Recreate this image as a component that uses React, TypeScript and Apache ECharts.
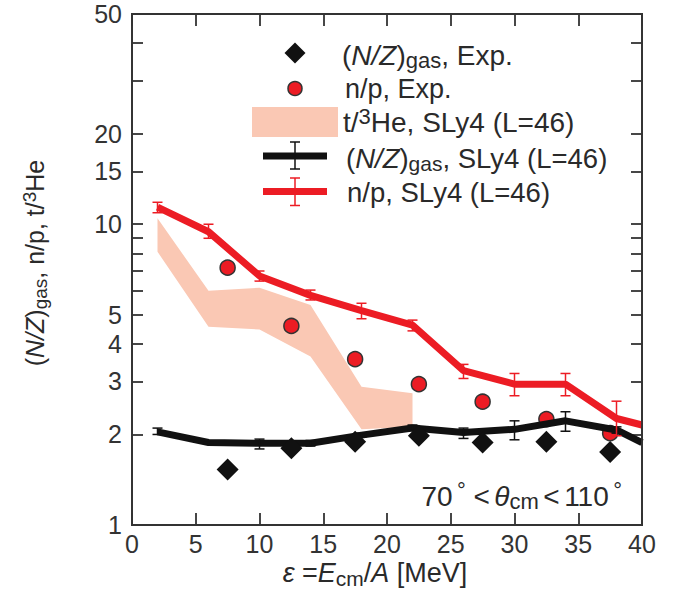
import { useEffect, useRef } from "react";
import * as echarts from "echarts";

// ---- data ----
const theoryX = [2, 6, 10, 14, 18, 22, 26, 30, 34, 38, 40];
const npSly4 = [11.4, 9.44, 6.73, 5.8, 5.16, 4.62, 3.26, 2.94, 2.94, 2.26, 2.15];
const npSly4Low = [10.92, 8.98, 6.47, 5.6, 4.85, 4.42, 3.07, 2.69, 2.69, 1.98, null];
const npSly4High = [11.83, 10.0, 6.99, 6.04, 5.46, 4.8, 3.42, 3.19, 3.19, 2.58, null];
const nzSly4 = [2.04, 1.88, 1.87, 1.87, 1.99, 2.1, 2.03, 2.08, 2.22, 2.07, 1.88];
const nzSly4Low = [2.0, 1.86, 1.79, 1.83, 1.96, 2.06, 1.94, 1.92, 2.05, 2.02, null];
const nzSly4High = [2.1, 1.9, 1.93, 1.91, 2.02, 2.15, 2.1, 2.22, 2.38, 2.12, null];

const expX = [7.5, 12.5, 17.5, 22.5, 27.5, 32.5, 37.5];
const npExp = [7.17, 4.59, 3.56, 2.94, 2.57, 2.25, 2.02];
const nzExp = [1.53, 1.8, 1.89, 1.98, 1.88, 1.89, 1.75];

const bandX = [2, 6, 10, 14, 18, 22];
const bandHigh = [10.46, 6.01, 6.15, 5.39, 2.88, 2.74];
const bandLow = [8.1, 4.56, 4.47, 3.63, 2.08, 2.12];

const yTickValues = [1, 2, 3, 4, 5, 6, 7, 8, 9, 10, 15, 20, 30, 40, 50];
const yLabelValues = [1, 2, 3, 4, 5, 10, 15, 20, 50];

const RED = "#ec1c24";
const BLACK = "#111111";
const BAND = "#fac8b4";
const AXIS = "#333333";
const TEXT = "#2a2a2a";
const FONT = "'Liberation Sans', Arial, Helvetica, sans-serif";

const L = (v: number) => Math.log10(v);
const LOGMAX = Math.log10(50);

function richStyles(size: number, subScale = 0.77) {
  const lh = size + 5;
  const small = Math.round(size * subScale);
  return {
    p: { fontSize: size, fontFamily: FONT, color: TEXT, lineHeight: lh },
    i: { fontSize: size, fontFamily: FONT, color: TEXT, fontStyle: "italic", lineHeight: lh },
    s: { fontSize: 16, fontFamily: FONT, color: TEXT, lineHeight: lh },
    sub: { fontSize: small, fontFamily: FONT, color: TEXT, lineHeight: Math.round(size * 0.7), verticalAlign: "bottom" },
    sup: { fontSize: small, fontFamily: FONT, color: TEXT, lineHeight: Math.round(size * 0.8), verticalAlign: "top" },
  };
}

function textEl(x: number, y: number, text: string, size: number, align = "left", rotation = 0) {
  return {
    type: "text",
    x,
    y,
    rotation,
    style: {
      text,
      rich: richStyles(size),
      fontSize: size,
      fontFamily: FONT,
      fill: TEXT,
      align,
      verticalAlign: "middle",
      textAlign: align,
      textVerticalAlign: "middle",
    },
    z: 100,
  };
}

function errBarSeries(xs: number[], lo: (number | null)[], hi: (number | null)[], color: string, z: number) {
  const data: number[][] = [];
  xs.forEach((x, i) => {
    const a = lo[i];
    const b = hi[i];
    if (a != null && b != null) data.push([x, L(a), L(b)]);
  });
  return {
    type: "custom",
    data,
    encode: { x: 0, y: [1, 2] },
    z,
    silent: true,
    renderItem: (_params: any, api: any) => {
      const x = api.value(0);
      const p1 = api.coord([x, api.value(1)]);
      const p2 = api.coord([x, api.value(2)]);
      const w = 5;
      const st = { stroke: color, lineWidth: 1.5 };
      return {
        type: "group",
        children: [
          { type: "line", shape: { x1: p1[0], y1: p1[1], x2: p2[0], y2: p2[1] }, style: st },
          { type: "line", shape: { x1: p1[0] - w, y1: p1[1], x2: p1[0] + w, y2: p1[1] }, style: st },
          { type: "line", shape: { x1: p2[0] - w, y1: p2[1], x2: p2[0] + w, y2: p2[1] }, style: st },
        ],
      };
    },
  };
}

export default function App() {
  const ref = useRef<HTMLDivElement>(null);

  useEffect(() => {
    document.body.style.margin = "0";
    if (!ref.current) return;
    const chart = echarts.init(ref.current, undefined, { renderer: "svg" });

    const legendGraphics: any[] = [
      {
        type: "polygon",
        shape: { points: [[295, 42.5], [305.5, 53], [295, 63.5], [284.5, 53]] },
        style: { fill: BLACK },
        z: 100,
      },
      {
        type: "circle",
        shape: { cx: 295, cy: 88.5, r: 7 },
        style: { fill: RED, stroke: "#333", lineWidth: 1.5 },
        z: 100,
      },
      { type: "rect", shape: { x: 252, y: 107, width: 86, height: 30 }, style: { fill: BAND }, z: 100 },
      { type: "line", shape: { x1: 263, y1: 156, x2: 327, y2: 156 }, style: { stroke: BLACK, lineWidth: 7 }, z: 100 },
      { type: "line", shape: { x1: 295, y1: 142, x2: 295, y2: 169 }, style: { stroke: BLACK, lineWidth: 1.5 }, z: 101 },
      { type: "line", shape: { x1: 290, y1: 142, x2: 300, y2: 142 }, style: { stroke: BLACK, lineWidth: 1.5 }, z: 101 },
      { type: "line", shape: { x1: 290, y1: 169, x2: 300, y2: 169 }, style: { stroke: BLACK, lineWidth: 1.5 }, z: 101 },
      { type: "line", shape: { x1: 263, y1: 191.5, x2: 327, y2: 191.5 }, style: { stroke: RED, lineWidth: 7 }, z: 100 },
      { type: "line", shape: { x1: 295, y1: 178, x2: 295, y2: 205.5 }, style: { stroke: RED, lineWidth: 1.5 }, z: 101 },
      { type: "line", shape: { x1: 290, y1: 178, x2: 300, y2: 178 }, style: { stroke: RED, lineWidth: 1.5 }, z: 101 },
      { type: "line", shape: { x1: 290, y1: 205.5, x2: 300, y2: 205.5 }, style: { stroke: RED, lineWidth: 1.5 }, z: 101 },
      textEl(342, 55, "{p|(}{i|N/Z}{p|)}{sub|gas}{p|, Exp.}", 28),
      textEl(345, 89, "{p|n/p, Exp.}", 27),
      textEl(343, 122, "{p|t/}{sup|3}{p|He, SLy4 (L=46)}", 28),
      textEl(346, 158, "{p|(}{i|N/Z}{p|)}{sub|gas}{p|, SLy4 (L=46)}", 27.5),
      textEl(347, 192, "{p|n/p, SLy4 (L=46)}", 27.5),
      textEl(
        622,
        496,
        "{p|70}{s| }{sup|°}{p| <}{s| }{i|θ}{sub|cm}{s| }{p|<}{s| }{p|110}{s| }{sup|°}",
        28,
        "right"
      ),
      textEl(375, 573, "{i|ε}{p| =}{i|E}{sub|cm}{p|/}{i|A}{p| [MeV]}", 27, "center"),
      textEl(35, 263, "{p|(}{i|N/Z}{p|)}{sub|gas}{p|, n/p, t/}{sup|3}{p|He}", 25, "center", Math.PI / 2),
    ];

    const lineSt = { color: AXIS, width: 1.8 };
    const xTick = { show: true, inside: true, length: 12, lineStyle: lineSt };
    const yTick = { show: true, inside: true, length: 11, lineStyle: lineSt, customValues: yTickValues.map(L) };

    const option: any = {
      animation: false,
      grid: { left: 132, right: 31, top: 14, bottom: 71, containLabel: false },
      xAxis: [
        {
          type: "value",
          min: 0,
          max: 40,
          interval: 5,
          position: "bottom",
          axisLine: { show: true, onZero: false, lineStyle: lineSt },
          axisTick: xTick,
          splitLine: { show: false },
          axisLabel: { fontSize: 25, color: AXIS, fontFamily: FONT, margin: 6 },
        },
        {
          type: "value",
          min: 0,
          max: 40,
          interval: 5,
          position: "top",
          axisLine: { show: true, onZero: false, lineStyle: lineSt },
          axisTick: xTick,
          splitLine: { show: false },
          axisLabel: { show: false },
        },
      ],
      yAxis: [
        {
          type: "value",
          min: 0,
          max: LOGMAX,
          position: "left",
          axisLine: { show: true, onZero: false, lineStyle: lineSt },
          axisTick: yTick,
          splitLine: { show: false },
          axisLabel: {
            fontSize: 25,
            color: AXIS,
            fontFamily: FONT,
            margin: 10,
            customValues: yLabelValues.map(L),
            formatter: (v: number) => String(Math.round(Math.pow(10, v))),
          },
        },
        {
          type: "value",
          min: 0,
          max: LOGMAX,
          position: "right",
          axisLine: { show: true, onZero: false, lineStyle: lineSt },
          axisTick: yTick,
          splitLine: { show: false },
          axisLabel: { show: false },
        },
      ],
      series: [
        {
          type: "custom",
          name: "t/3He SLy4",
          data: bandX.map((x, i) => [x, L(bandLow[i]), L(bandHigh[i])]),
          encode: { x: 0, y: [1, 2] },
          z: 1,
          silent: true,
          renderItem: (params: any, api: any) => {
            if (params.dataIndex !== 0) return null;
            const top = bandX.map((x, i) => api.coord([x, L(bandHigh[i])]));
            const bottom = bandX.map((x, i) => api.coord([x, L(bandLow[i])])).reverse();
            return { type: "polygon", shape: { points: [...top, ...bottom] }, style: { fill: BAND } };
          },
        },
        {
          type: "scatter",
          name: "n/p Exp",
          data: expX.map((x, i) => [x, L(npExp[i])]),
          symbol: "circle",
          symbolSize: 15,
          itemStyle: { color: RED, borderColor: "#333", borderWidth: 1.5, opacity: 1 },
          z: 2,
          silent: true,
        },
        {
          type: "line",
          name: "N/Z SLy4",
          data: theoryX.map((x, i) => [x, L(nzSly4[i])]),
          symbol: "none",
          lineStyle: { color: BLACK, width: 7 },
          z: 3,
          silent: true,
        },
        {
          type: "line",
          name: "n/p SLy4",
          data: theoryX.map((x, i) => [x, L(npSly4[i])]),
          symbol: "none",
          lineStyle: { color: RED, width: 7 },
          z: 3,
          silent: true,
        },
        errBarSeries(theoryX, nzSly4Low, nzSly4High, BLACK, 4),
        errBarSeries(theoryX, npSly4Low, npSly4High, RED, 4),
        {
          type: "scatter",
          name: "N/Z Exp",
          data: expX.map((x, i) => [x, L(nzExp[i])]),
          symbol: "diamond",
          symbolSize: 22,
          itemStyle: { color: BLACK, opacity: 1 },
          z: 5,
          silent: true,
        },
        {
          // plot frame, drawn as thin filled bars at the corners given by the axes' scales
          type: "custom",
          name: "frame",
          data: [[0, 0]],
          encode: { x: 0, y: 1 },
          z: 20,
          silent: true,
          clip: false,
          renderItem: (_params: any, api: any) => {
            const a = api.coord([0, 0]);
            const b = api.coord([40, LOGMAX]);
            const x0 = a[0];
            const y0 = b[1];
            const x1 = b[0];
            const y1 = a[1];
            const t = 1.8;
            const h = t / 2;
            const fill = { fill: AXIS };
            return {
              type: "group",
              children: [
                { type: "rect", shape: { x: x0 - h, y: y0 - h, width: x1 - x0 + t, height: t }, style: fill },
                { type: "rect", shape: { x: x0 - h, y: y1 - h, width: x1 - x0 + t, height: t }, style: fill },
                { type: "rect", shape: { x: x0 - h, y: y0 - h, width: t, height: y1 - y0 + t }, style: fill },
                { type: "rect", shape: { x: x1 - h, y: y0 - h, width: t, height: y1 - y0 + t }, style: fill },
              ],
            };
          },
        },
      ],
      graphic: legendGraphics,
    };

    chart.setOption(option);
    return () => chart.dispose();
  }, []);

  return <div ref={ref} style={{ width: 673, height: 596 }} />;
}
